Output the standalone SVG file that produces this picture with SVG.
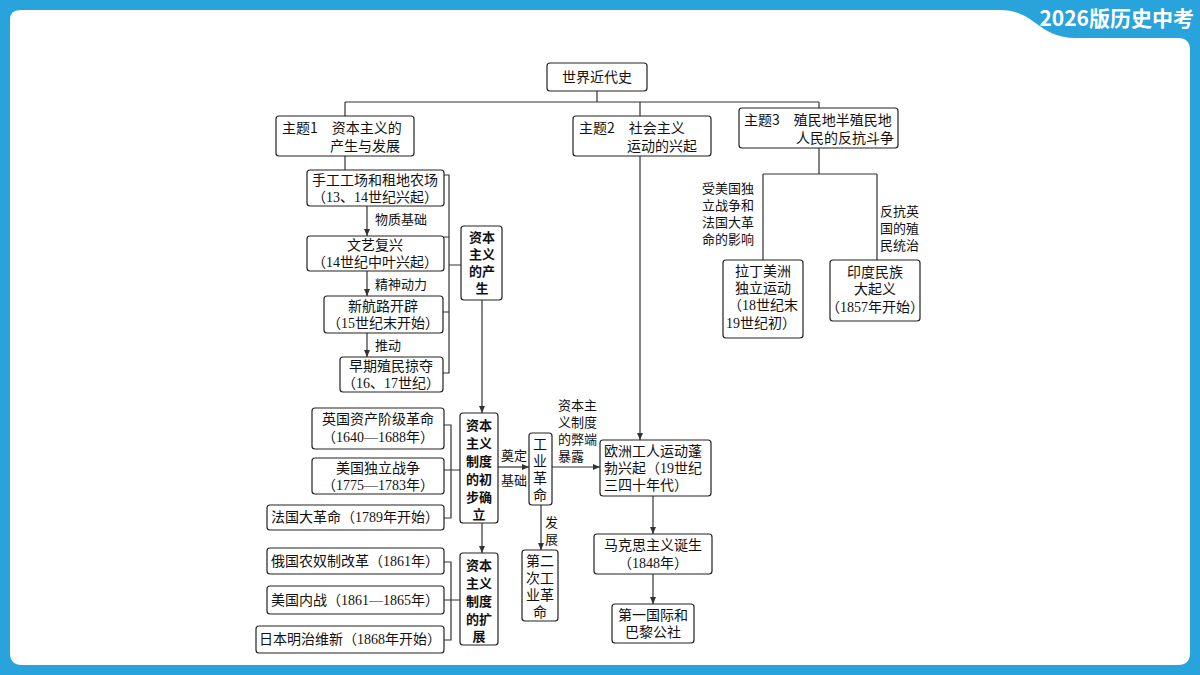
<svg xmlns="http://www.w3.org/2000/svg" width="1200" height="675" viewBox="0 0 1200 675">
<style>
.b{fill:#fff;stroke:#222;stroke-width:1.2}
.t{font-family:"Liberation Serif","Noto Sans CJK SC",serif;font-size:14px;fill:#111}
.h{font-family:"Noto Sans CJK SC",sans-serif;font-size:14px;fill:#111}
.hb{font-family:"Noto Sans CJK SC",sans-serif;font-size:13px;font-weight:bold;fill:#111}
.l{fill:none;stroke:#333;stroke-width:1.2}
.s{font-family:"Liberation Serif","Noto Sans CJK SC",serif;font-size:13px;fill:#111}
</style>
<defs><marker id="a" markerWidth="8" markerHeight="8" refX="7" refY="4" orient="auto" markerUnits="userSpaceOnUse"><path d="M0,1 L7,4 L0,7 Z" fill="#333"/></marker></defs>
<rect width="1200" height="675" fill="#29a3dc"/>
<path d="M10,20 Q10,10 20,10 L1000,10 C1035,10 1038,38 1075,38 L1178,38 Q1190,38 1190,50 L1190,653 Q1190,665 1178,665 L22,665 Q10,665 10,653 Z" fill="#fff"/>
<text x="1194" y="26" text-anchor="end" font-family="Noto Sans CJK SC,sans-serif" font-weight="bold" font-size="21" fill="#fff">2026版历史中考</text>
<g id="connectors">
<path class="l" d="M597,91V102M345,102H819M345,102V116M640,102V116M819,102V108"/>
<path class="l" d="M345,156V170"/>
<path class="l" d="M367,206V236" marker-end="url(#a)"/>
<path class="l" d="M367,271V296" marker-end="url(#a)"/>
<path class="l" d="M367,333V357" marker-end="url(#a)"/>
<path class="l" d="M444,175H449V373H443M444,237H449M443,312H449M449,265H461"/>
<path class="l" d="M482,300V413" marker-end="url(#a)"/>
<path class="l" d="M444,425H451V518H444M444,470H460"/>
<path class="l" d="M482,523V553" marker-end="url(#a)"/>
<path class="l" d="M444,562H451V640H444M444,600H460"/>
<path class="l" d="M498,467H529" marker-end="url(#a)"/>
<path class="l" d="M541,505V550" marker-end="url(#a)"/>
<path class="l" d="M552,467H600" marker-end="url(#a)"/>
<path class="l" d="M640,156V440" marker-end="url(#a)"/>
<path class="l" d="M653,496V534" marker-end="url(#a)"/>
<path class="l" d="M653,574V604" marker-end="url(#a)"/>
<path class="l" d="M819,148V174M763,174H877M763,174V260M877,174V260"/>
<text class="s" x="375" y="224">物质基础</text>
<text class="s" x="375" y="289">精神动力</text>
<text class="s" x="375" y="350">推动</text>
<text class="s" x="501" y="460">奠定</text>
<text class="s" x="501" y="485">基础</text>
<text class="s" x="545" y="527">发</text>
<text class="s" x="545" y="544">展</text>
<text class="s" x="558" y="410">资本主</text>
<text class="s" x="558" y="427">义制度</text>
<text class="s" x="558" y="444">的弊端</text>
<text class="s" x="558" y="461">暴露</text>
<text class="s" x="702" y="193">受美国独</text>
<text class="s" x="702" y="210">立战争和</text>
<text class="s" x="702" y="227">法国大革</text>
<text class="s" x="702" y="244">命的影响</text>
<text class="s" x="880" y="216">反抗英</text>
<text class="s" x="880" y="233">国的殖</text>
<text class="s" x="880" y="250">民统治</text>
</g>
<g id="n0"><rect class="b" x="547" y="63" width="100" height="28" rx="3"/><text class="h" x="597" y="82" text-anchor="middle">世界近代史</text></g>
<g id="n1"><rect class="b" x="276" y="116" width="138" height="40" rx="3"/><text class="h" x="282" y="133">主题1　资本主义的</text><text class="h" x="330" y="151">产生与发展</text></g>
<g id="n2"><rect class="b" x="573" y="116" width="138" height="40" rx="3"/><text class="h" x="579" y="133">主题2　社会主义</text><text class="h" x="627" y="151">运动的兴起</text></g>
<g id="n3"><rect class="b" x="739" y="108" width="159" height="40" rx="3"/><text class="h" x="744" y="125">主题3　殖民地半殖民地</text><text class="h" x="796" y="143">人民的反抗斗争</text></g>
<g id="n4"><rect class="b" x="307" y="170" width="137" height="36" rx="3"/><text class="t" x="375" y="185" text-anchor="middle">手工工场和租地农场</text><text class="t" x="375" y="202" text-anchor="middle">（13、14世纪兴起）</text></g>
<g id="n5"><rect class="b" x="307" y="236" width="137" height="35" rx="3"/><text class="t" x="375" y="250" text-anchor="middle">文艺复兴</text><text class="t" x="375" y="267" text-anchor="middle">（14世纪中叶兴起）</text></g>
<g id="n6"><rect class="b" x="324" y="296" width="119" height="37" rx="3"/><text class="t" x="383" y="311" text-anchor="middle">新航路开辟</text><text class="t" x="383" y="328" text-anchor="middle">（15世纪末开始）</text></g>
<g id="n7"><rect class="b" x="340" y="357" width="103" height="35" rx="3"/><text class="t" x="391" y="371" text-anchor="middle">早期殖民掠夺</text><text class="t" x="391" y="388" text-anchor="middle">（16、17世纪）</text></g>
<g id="n8"><rect class="b" x="461" y="226" width="41" height="74" rx="3"/><text class="hb" x="482" y="242" text-anchor="middle">资本</text><text class="hb" x="482" y="259" text-anchor="middle">主义</text><text class="hb" x="482" y="276" text-anchor="middle">的产</text><text class="hb" x="482" y="293" text-anchor="middle">生</text></g>
<g id="n9"><rect class="b" x="312" y="408" width="132" height="41" rx="3"/><text class="t" x="378" y="424" text-anchor="middle">英国资产阶级革命</text><text class="t" x="378" y="442" text-anchor="middle">（1640—1688年）</text></g>
<g id="n10"><rect class="b" x="312" y="458" width="132" height="36" rx="3"/><text class="t" x="378" y="473" text-anchor="middle">美国独立战争</text><text class="t" x="378" y="490" text-anchor="middle">（1775—1783年）</text></g>
<g id="n11"><rect class="b" x="267" y="505" width="177" height="25" rx="3"/><text class="t" x="355" y="522" text-anchor="middle">法国大革命（1789年开始）</text></g>
<g id="n12"><rect class="b" x="460" y="413" width="38" height="110" rx="3"/><text class="hb" x="479" y="430" text-anchor="middle">资本</text><text class="hb" x="479" y="448" text-anchor="middle">主义</text><text class="hb" x="479" y="466" text-anchor="middle">制度</text><text class="hb" x="479" y="484" text-anchor="middle">的初</text><text class="hb" x="479" y="502" text-anchor="middle">步确</text><text class="hb" x="479" y="519" text-anchor="middle">立</text></g>
<g id="n13"><rect class="b" x="267" y="548" width="177" height="26" rx="3"/><text class="t" x="355" y="566" text-anchor="middle">俄国农奴制改革（1861年）</text></g>
<g id="n14"><rect class="b" x="267" y="586" width="177" height="28" rx="3"/><text class="t" x="355" y="605" text-anchor="middle">美国内战（1861—1865年）</text></g>
<g id="n15"><rect class="b" x="256" y="626" width="188" height="27" rx="3"/><text class="t" x="350" y="644" text-anchor="middle">日本明治维新（1868年开始）</text></g>
<g id="n16"><rect class="b" x="460" y="553" width="38" height="92" rx="3"/><text class="hb" x="479" y="570" text-anchor="middle">资本</text><text class="hb" x="479" y="588" text-anchor="middle">主义</text><text class="hb" x="479" y="606" text-anchor="middle">制度</text><text class="hb" x="479" y="624" text-anchor="middle">的扩</text><text class="hb" x="479" y="641" text-anchor="middle">展</text></g>
<g id="n17"><rect class="b" x="529" y="433" width="23" height="72" rx="3"/><text class="t" x="540" y="449" text-anchor="middle">工</text><text class="t" x="540" y="466" text-anchor="middle">业</text><text class="t" x="540" y="483" text-anchor="middle">革</text><text class="t" x="540" y="500" text-anchor="middle">命</text></g>
<g id="n18"><rect class="b" x="522" y="550" width="36" height="71" rx="3"/><text class="t" x="540" y="566" text-anchor="middle">第二</text><text class="t" x="540" y="583" text-anchor="middle">次工</text><text class="t" x="540" y="600" text-anchor="middle">业革</text><text class="t" x="540" y="617" text-anchor="middle">命</text></g>
<g id="n19"><rect class="b" x="600" y="440" width="111" height="56" rx="3"/><text class="t" x="604" y="456">欧洲工人运动蓬</text><text class="t" x="604" y="473">勃兴起（19世纪</text><text class="t" x="604" y="490">三四十年代）</text></g>
<g id="n20"><rect class="b" x="594" y="534" width="118" height="40" rx="3"/><text class="t" x="653" y="550" text-anchor="middle">马克思主义诞生</text><text class="t" x="653" y="568" text-anchor="middle">（1848年）</text></g>
<g id="n21"><rect class="b" x="612" y="604" width="82" height="39" rx="3"/><text class="t" x="653" y="620" text-anchor="middle">第一国际和</text><text class="t" x="653" y="637" text-anchor="middle">巴黎公社</text></g>
<g id="n22"><rect class="b" x="723" y="260" width="80" height="78" rx="3"/><text class="t" x="763" y="276" text-anchor="middle">拉丁美洲</text><text class="t" x="763" y="293" text-anchor="middle">独立运动</text><text class="t" x="763" y="310" text-anchor="middle">（18世纪末</text><text class="t" x="726" y="328">19世纪初）</text></g>
<g id="n23"><rect class="b" x="830" y="260" width="90" height="61" rx="3"/><text class="t" x="875" y="277" text-anchor="middle">印度民族</text><text class="t" x="875" y="294" text-anchor="middle">大起义</text><text class="t" x="875" y="312" text-anchor="middle">（1857年开始）</text></g>
</svg>
